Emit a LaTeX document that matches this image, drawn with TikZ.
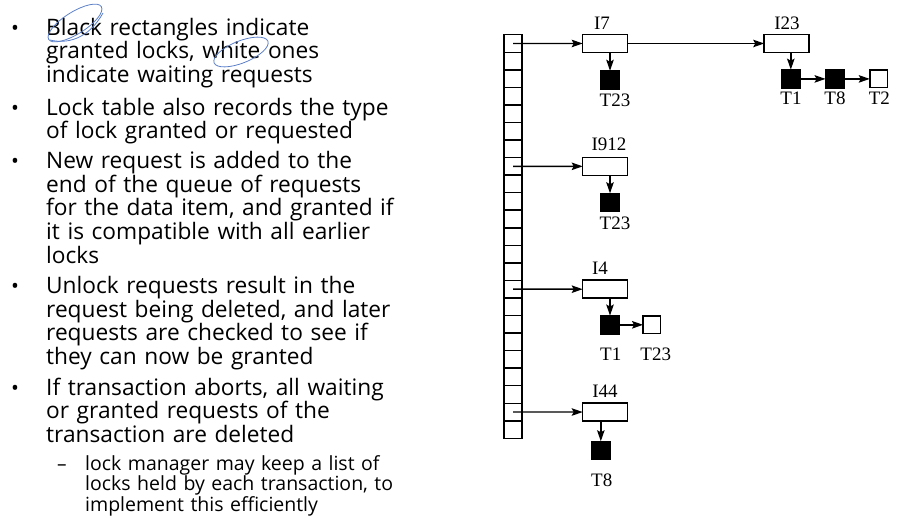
\documentclass[tikz,border=0pt]{standalone}
\usepackage{fontspec}
\newfontfamily\slidefont{Open Sans}
\newfontfamily\figfont{Liberation Serif}
\usetikzlibrary{arrows.meta}
\definecolor{ink}{HTML}{000000}
\definecolor{scrib}{HTML}{5B7FC7}
\begin{document}
\begin{tikzpicture}[x=1pt,y=-1pt,
  para/.style={anchor=base west, align=left, inner sep=0pt, text width=420pt, text=ink,
    font=\slidefont\fontsize{22.7}{22.6}\selectfont},
  subpara/.style={anchor=base west, align=left, inner sep=0pt, text width=420pt, text=ink,
    font=\slidefont\fontsize{19.5}{17.5}\selectfont},
  bul/.style={anchor=base west, inner sep=0pt, text=ink, font=\slidefont\fontsize{21}{22.6}\selectfont},
  subbul/.style={anchor=base west, inner sep=0pt, text=ink, font=\slidefont\fontsize{19}{17.5}\selectfont},
  cell/.style={draw, line width=1.5pt, minimum width=18pt, minimum height=17.55pt, inner sep=0pt, outer sep=0pt},
  itembox/.style={draw, line width=1.5pt, fill=white, minimum width=45pt, minimum height=18pt, inner sep=0pt, outer sep=0pt},
  granted/.style={fill=black, draw=black, line width=0.6pt, minimum size=18.5pt, inner sep=0pt, outer sep=0pt},
  waiting/.style={draw=black, fill=white, line width=1.5pt, minimum size=17.5pt, inner sep=0pt, outer sep=0pt},
  lbl/.style={anchor=base, inner sep=0pt, font=\figfont\fontsize{19}{21}\selectfont},
  arr/.style={line width=1.4pt, -{Stealth[length=11pt,width=7.5pt,inset=2pt]}},
  scribble/.style={draw=scrib, line width=0.8pt}
]
\useasboundingbox (0,0) rectangle (920,522);

% ---------- left text ----------
\node[bul] (b1) at (11,35) {•};
\node[para] (p1) at (46,35) {Black rectangles indicate\\granted locks, white ones\\indicate waiting requests};
\node[bul] (b2) at (11,115) {•};
\node[para] (p2) at (46,115) {Lock table also records the type\\of lock granted or requested};
\node[bul] (b3) at (11,168.3) {•};
\node[para] (p3) at (46,168.3) {New request is added to the\\end of the queue of requests\\for the data item, and granted if\\it is compatible with all earlier\\locks};
\node[bul] (b4) at (11,293.3) {•};
\node[para] (p4) at (46,293.3) {Unlock requests result in the\\request being deleted, and later\\requests are checked to see if\\they can now be granted};
\node[bul] (b5) at (11,395) {•};
\node[para] (p5) at (46,395) {If transaction aborts, all waiting\\or granted requests of the\\transaction are deleted};
\node[subbul] (b6) at (57,470) {–};
\node[subpara] (p6) at (85,470) {lock manager may keep a list of\\locks held by each transaction, to\\implement this efficiently};

% hand-drawn marks
\draw[scribble, rotate around={32:(75,23)}] (75,23) ellipse [x radius=31, y radius=11];
\draw[scribble] (50,40) .. controls (66,44) and (88,40) .. (103,13);
\draw[scribble, rotate around={22:(241,52)}] (241,52) ellipse [x radius=29, y radius=11];

% ---------- lock table ----------
\foreach \i in {0,...,22} {
  \node[cell] (c\i) at (513, 34.7+8.775+17.55*\i) {};
}

% data items
\node[itembox] (I7)   at (605.2, 43.48) {};
\node[itembox] (I23)  at (786.7, 43.48) {};
\node[itembox] (I912) at (605.2, 166.33) {};
\node[itembox] (I4)   at (605.2, 289.18) {};
\node[itembox] (I44)  at (605.2, 412.03) {};

\node[lbl] (lI7)   at (602, 29.3) {I7};
\node[lbl] (lI23)  at (787, 29.3) {I23};
\node[lbl] (lI912) at (609, 150) {I912};
\node[lbl] (lI4)   at (600, 274) {I4};
\node[lbl] (lI44)  at (605, 397.3) {I44};

% requests
\node[granted] (r7a)   at (610, 80) {};
\node[granted] (r23a)  at (790.8, 78.9) {};
\node[granted] (r23b)  at (834.8, 78.9) {};
\node[waiting] (r23c)  at (878.5, 78.9) {};
\node[granted] (r912a) at (610, 202.5) {};
\node[granted] (r4a)   at (610, 324.8) {};
\node[waiting] (r4b)   at (651.8, 324.8) {};
\node[granted] (r44a)  at (600.8, 450.5) {};

\node[lbl] (t7a)   at (615, 106.5) {T23};
\node[lbl] (t23a)  at (791, 104.5) {T1};
\node[lbl] (t23b)  at (835, 104.5) {T8};
\node[lbl] (t23c)  at (879.3, 104.5) {T2};
\node[lbl] (t912a) at (615, 229) {T23};
\node[lbl] (t4a)   at (610.7, 360) {T1};
\node[lbl] (t4b)   at (655.7, 360) {T23};
\node[lbl] (t44a)  at (601.7, 486) {T8};

% connectors
\draw[arr] (c0.center)  -- (I7.west);
\draw[arr] (c7.center)  -- (I912.west);
\draw[arr] (c14.center) -- (I4.west);
\draw[arr] (c21.center) -- (I44.west);
\draw[arr] (I7.east) -- (I23.west);

\draw[arr] (I7.south -| r7a.north) -- (r7a.north);
\draw[arr] (I23.south -| r23a.north) -- (r23a.north);
\draw[arr] (r23a.east) -- (r23b.west);
\draw[arr] (r23b.east) -- (r23c.west);
\draw[arr] (I912.south -| r912a.north) -- (r912a.north);
\draw[arr] (I4.south -| r4a.north) -- (r4a.north);
\draw[arr] (r4a.east) -- (r4b.west);
\draw[arr] (I44.south -| r44a.north) -- (r44a.north);
\end{tikzpicture}
\end{document}
